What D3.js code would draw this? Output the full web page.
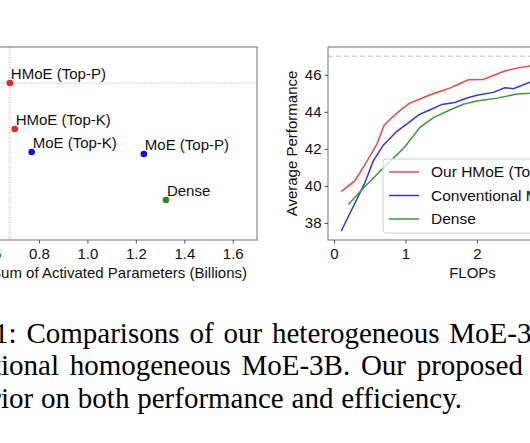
<!DOCTYPE html>
<html>
<head>
<meta charset="utf-8">
<script src="https://cdn.jsdelivr.net/npm/d3@7"></script>
<style>
html,body{margin:0;padding:0;background:#fff;overflow:hidden;}
svg{display:block;}
</style>
</head>
<body>
<svg id="c" width="530" height="443"></svg>
<script>
// ---------- data ----------
const scatterNames = ["HMoE (Top-P)", "HMoE (Top-K)", "MoE (Top-K)", "MoE (Top-P)", "Dense"];
const scatterParams = [0.68, 0.70, 0.77, 1.233, 1.324];
const scatterPerf = [45.0, 44.3, 43.95, 43.92, 43.22];
const scatterColors = ["#e8281f", "#e8281f", "#0a0ae6", "#0a0ae6", "#2a862a"];
const leftXTicks = [0.6, 0.8, 1.0, 1.2, 1.4, 1.6];

const redX = [0.1, 0.29, 0.43, 0.6, 0.7, 0.81, 0.95, 1.06, 1.18, 1.32, 1.48, 1.62, 1.74, 1.88, 2.09, 2.23, 2.37, 2.56, 2.74, 2.9];
const redY = [39.69, 40.27, 41.14, 42.25, 43.26, 43.69, 44.16, 44.47, 44.65, 44.88, 45.10, 45.28, 45.49, 45.73, 45.75, 45.96, 46.18, 46.36, 46.47, 46.55];
const blueX = [0.1, 0.43, 0.55, 0.69, 0.88, 1.04, 1.19, 1.34, 1.51, 1.69, 1.86, 2.0, 2.23, 2.39, 2.51, 2.74, 2.9];
const blueY = [37.55, 40.15, 41.35, 42.2, 42.95, 43.4, 43.85, 44.1, 44.4, 44.5, 44.75, 44.9, 45.05, 45.3, 45.25, 45.6, 45.7];
const greenX = [0.2, 0.43, 0.69, 0.99, 1.2, 1.39, 1.62, 1.81, 2.0, 2.28, 2.56, 2.74, 2.9];
const greenY = [39.0, 39.96, 40.96, 42.1, 43.15, 43.69, 44.1, 44.41, 44.59, 44.74, 44.96, 45.0, 45.05];
const seriesNames = ["Our HMoE (Top-P)", "Conventional MoE (Top-K)", "Dense"];
const seriesColors = ["#f04848", "#3434f5", "#3f9a3f"];
const refLine = 47.0;
const rightXTicks = [0, 1, 2, 3];
const rightYTicks = [38, 40, 42, 44, 46];

const captionCut = ["Figure 1", "convent", "super"];
const captionRest = [": Comparisons of our heterogeneous MoE-3B with the",
                     "ional homogeneous MoE-3B. Our proposed HMoE is",
                     "ior on both performance and efficiency."];
// visible part of each caption line used to fit the justified spacing
const captionFit = [": Comparisons of our heterogeneous MoE-",
                    "ional homogeneous MoE-3B. Our proposed",
                    "ior on both performance and efficiency."];

// ---------- drawing ----------
const svg = d3.select("#c");
svg.append("rect").attr("width",530).attr("height",443).attr("fill","#fff");
const FONT = "'Liberation Sans', Arial, sans-serif";
const spine = "#8a8a8a";

// Left scatter
const L = {left:-33.75, right:257, top:47, bottom:240};
const xL = d3.scaleLinear().domain([0.5,1.7]).range([L.left,L.right]);
const yL = d3.scaleLinear().domain([42.61,45.55]).range([L.bottom,L.top]);
const gL = svg.append("g");
gL.append("line").attr("x1",xL(scatterParams[0])).attr("x2",xL(scatterParams[0]))
  .attr("y1",L.top).attr("y2",L.bottom).attr("stroke","#b0b0b0").attr("stroke-width",1).attr("stroke-dasharray","1,1.5");
gL.append("line").attr("x1",L.left).attr("x2",L.right)
  .attr("y1",yL(scatterPerf[0])).attr("y2",yL(scatterPerf[0])).attr("stroke","#b0b0b0").attr("stroke-width",1).attr("stroke-dasharray","1,1.5");
gL.append("rect").attr("x",L.left).attr("y",L.top).attr("width",L.right-L.left).attr("height",L.bottom-L.top)
  .attr("fill","none").attr("stroke",spine).attr("stroke-width",1.2);
const axL = gL.append("g").attr("transform",`translate(0,${L.bottom})`)
  .call(d3.axisBottom(xL).tickValues(leftXTicks).tickFormat(d3.format(".1f")).tickSize(3.5).tickPadding(5));
axL.select(".domain").remove();
axL.selectAll("line").attr("stroke","#555");
axL.selectAll("text").attr("font-family",FONT).attr("font-size",15).attr("fill","#111");
gL.append("text").attr("x",247).attr("y",278).attr("text-anchor","end")
  .attr("font-family",FONT).attr("font-size",15).attr("fill","#111").text("Sum of Activated Parameters (Billions)");
scatterNames.forEach((n,i)=>{
  const cx = xL(scatterParams[i]), cy = yL(scatterPerf[i]);
  gL.append("circle").attr("cx",cx).attr("cy",cy).attr("r",3.3).attr("fill",scatterColors[i]);
  gL.append("text").attr("x",cx+1).attr("y",cy-4).attr("font-family",FONT).attr("font-size",15)
    .attr("fill","#111").text(n);
});

// Right line chart
const R = {left:328, right:617, top:47, bottom:240};
const xR = d3.scaleLinear().domain([-0.084,3.96]).range([R.left,R.right]);
const yR = d3.scaleLinear().domain([37.08,47.5]).range([R.bottom,R.top]);
const gR = svg.append("g");
gR.append("line").attr("x1",R.left).attr("x2",R.right).attr("y1",yR(refLine)).attr("y2",yR(refLine))
  .attr("stroke","#c4c4c4").attr("stroke-width",1.2).attr("stroke-dasharray","5,3");
const line = d3.line().x(d=>xR(d[0])).y(d=>yR(d[1]));
const seriesData = [d3.zip(redX,redY), d3.zip(blueX,blueY), d3.zip(greenX,greenY)];
seriesData.forEach((s,i)=>{
  gR.append("path").datum(s).attr("d",line).attr("fill","none")
    .attr("stroke",seriesColors[i]).attr("stroke-width",1.5);
});
gR.append("rect").attr("x",R.left).attr("y",R.top).attr("width",R.right-R.left).attr("height",R.bottom-R.top)
  .attr("fill","none").attr("stroke",spine).attr("stroke-width",1.2);
const axRx = gR.append("g").attr("transform",`translate(0,${R.bottom})`)
  .call(d3.axisBottom(xR).tickValues(rightXTicks).tickFormat(d3.format("d")).tickSize(3.5).tickPadding(5));
axRx.select(".domain").remove();
const axRy = gR.append("g").attr("transform",`translate(${R.left},0)`)
  .call(d3.axisLeft(yR).tickValues(rightYTicks).tickFormat(d3.format("d")).tickSize(3.5).tickPadding(3));
axRy.select(".domain").remove();
[axRx,axRy].forEach(a=>{
  a.selectAll("line").attr("stroke","#555");
  a.selectAll("text").attr("font-family",FONT).attr("font-size",15).attr("fill","#111");
});
gR.append("text").attr("x",(R.left+R.right)/2).attr("y",278).attr("text-anchor","middle")
  .attr("font-family",FONT).attr("font-size",15).attr("fill","#111").text("FLOPs");
gR.append("text").attr("transform",`translate(297,${(R.top+R.bottom)/2}) rotate(-90)`).attr("text-anchor","middle")
  .attr("font-family",FONT).attr("font-size",15).attr("fill","#111").text("Average Performance");
const lg = gR.append("g");
lg.append("rect").attr("x",383).attr("y",159).attr("width",230).attr("height",74).attr("rx",3)
  .attr("fill","#fff").attr("fill-opacity",0.8).attr("stroke","#d0d0d0").attr("stroke-width",1);
seriesNames.forEach((n,i)=>{
  const yy = 172 + i*23.5;
  lg.append("line").attr("x1",389).attr("x2",419).attr("y1",yy).attr("y2",yy)
    .attr("stroke",seriesColors[i]).attr("stroke-width",1.5);
  lg.append("text").attr("x",431).attr("y",yy+5.3).attr("font-family",FONT).attr("font-size",15.5)
    .attr("fill","#111").text(n);
});

// Caption (justified lines: spacing fitted so visible text spans the reference width)
const SERIF = "'Liberation Serif', 'Times New Roman', serif";
const capX = [8.5, 1, 1];
const capY = [343, 375, 407.5];
const capEnd = [517, 523, 462];
const CAPSIZE = 29;
captionRest.forEach((t,i)=>{
  svg.append("text").attr("x",capX[i]).attr("y",capY[i]).attr("text-anchor","end")
    .attr("font-family",SERIF).attr("font-size",CAPSIZE).attr("fill","#000").text(captionCut[i]);
  // measure visible part
  const probe = svg.append("text").attr("font-family",SERIF).attr("font-size",CAPSIZE).text(captionFit[i]);
  const w = probe.node().getComputedTextLength();
  probe.remove();
  const nSp = (captionFit[i].match(/ /g)||[]).length;
  const ws = (capEnd[i]-capX[i]-w)/nSp;
  svg.append("text").attr("x",capX[i]).attr("y",capY[i]).attr("word-spacing",ws)
    .attr("font-family",SERIF).attr("font-size",CAPSIZE).attr("fill","#000").text(t);
});
</script>
</body>
</html>
